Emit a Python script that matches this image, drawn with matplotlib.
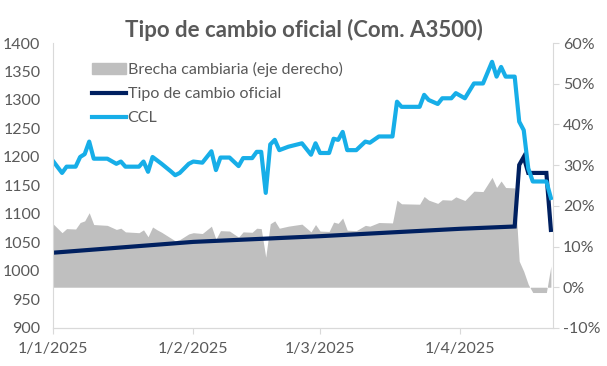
import numpy as np
import pandas as pd
import matplotlib
matplotlib.use("Agg")
import matplotlib.pyplot as plt
from matplotlib.patches import Patch
from matplotlib.lines import Line2D

# CCL and brecha (vertices)
ccl_dates = ["2025-01-01", "2025-01-03", "2025-01-04", "2025-01-06", "2025-01-07", "2025-01-08",
             "2025-01-09", "2025-01-10", "2025-01-13", "2025-01-15", "2025-01-16", "2025-01-17",
             "2025-01-20", "2025-01-21", "2025-01-22", "2025-01-23", "2025-01-24", "2025-01-25",
             "2025-01-27", "2025-01-28", "2025-01-29", "2025-01-31", "2025-02-01", "2025-02-03",
             "2025-02-05", "2025-02-06", "2025-02-07", "2025-02-09", "2025-02-11", "2025-02-12",
             "2025-02-14", "2025-02-15", "2025-02-16", "2025-02-17", "2025-02-18", "2025-02-19",
             "2025-02-20", "2025-02-22", "2025-02-25", "2025-02-27", "2025-02-28", "2025-03-01",
             "2025-03-03", "2025-03-04", "2025-03-05", "2025-03-06", "2025-03-07", "2025-03-09",
             "2025-03-11", "2025-03-12", "2025-03-14", "2025-03-17", "2025-03-18", "2025-03-19",
             "2025-03-23", "2025-03-24", "2025-03-25", "2025-03-27", "2025-03-28", "2025-03-30",
             "2025-03-31", "2025-04-02", "2025-04-04", "2025-04-06", "2025-04-08", "2025-04-09",
             "2025-04-10", "2025-04-11", "2025-04-13", "2025-04-14", "2025-04-15", "2025-04-16",
             "2025-04-17", "2025-04-20", "2025-04-21"]
ccl = [1193, 1172, 1183, 1183, 1200, 1205,
       1227, 1197, 1197, 1188, 1192, 1183,
       1183, 1192, 1174, 1200, 1194, 1188,
       1175, 1168, 1172, 1188, 1192, 1190,
       1210, 1177, 1199, 1199, 1184, 1198,
       1198, 1209, 1209, 1137, 1222, 1230,
       1212, 1218, 1224, 1204, 1224, 1207,
       1207, 1232, 1230, 1244, 1212, 1212,
       1227, 1225, 1236, 1236, 1297, 1288,
       1288, 1309, 1300, 1293, 1303, 1303,
       1312, 1303, 1329, 1329, 1367, 1341,
       1358, 1341, 1341, 1262, 1247, 1180,
       1157, 1157, 1128]
brecha = [15.6, 13.4, 14.4, 14.3, 15.9, 16.3,
          18.3, 15.4, 15.2, 14.2, 14.5, 13.6,
          13.4, 14.1, 12.4, 14.8, 14.1, 13.5,
          12.1, 11.4, 11.7, 13.1, 13.4, 13.2,
          15.0, 11.8, 13.9, 13.8, 12.3, 13.6,
          13.5, 14.5, 14.4, 7.4, 15.6, 16.3,
          14.5, 15.0, 15.5, 13.6, 15.4, 13.8,
          13.7, 16.0, 15.7, 17.0, 14.0, 13.9,
          15.2, 15.0, 15.9, 15.8, 21.4, 20.5,
          20.4, 22.3, 21.4, 20.6, 21.5, 21.4,
          22.2, 21.3, 23.6, 23.5, 27.0, 24.5,
          26.1, 24.5, 24.4, 6.4, 3.9, 0.7,
          -1.3, -1.3, 5.2]

oficial_dates = ["2025-01-01", "2025-02-01", "2025-03-01", "2025-04-01", "2025-04-13",
                 "2025-04-14", "2025-04-15", "2025-04-16", "2025-04-20", "2025-04-21"]
oficial = [1032, 1051, 1061, 1074, 1078, 1186, 1200, 1172, 1172, 1072]

month_ticks = ["2025-01-01", "2025-02-01", "2025-03-01", "2025-04-01"]
month_labels = ["1/1/2025", "1/2/2025", "1/3/2025", "1/4/2025"]

ccl_x = pd.to_datetime(ccl_dates)
of_x = pd.to_datetime(oficial_dates)

txt = "#595959"
plt.rcParams["font.family"] = ["Lato", "DejaVu Sans"]

fig = plt.figure(figsize=(6.07, 3.66), dpi=100)
ax = fig.add_axes([0.0873, 0.104, 0.824, 0.7785])
ax2 = ax.twinx()

ax2.fill_between(ccl_x, 0, np.array(brecha) / 100, color="#BFBFBF", linewidth=0)
ax.plot(of_x, oficial, color="#002060", lw=3, solid_joinstyle="miter")
ax.plot(ccl_x, ccl, color="#17AEE8", lw=3)

ax.set_zorder(ax2.get_zorder() + 1)
ax.patch.set_visible(False)

ax.set_ylim(900, 1400)
ax.set_yticks(np.arange(900, 1401, 50))
ax2.set_ylim(-0.10, 0.60)
ax2.set_yticks(np.arange(-0.10, 0.601, 0.10))
ax2.set_yticklabels([f"{v}%" for v in range(-10, 61, 10)])

ax.set_xlim(pd.Timestamp("2025-01-01"), pd.Timestamp("2025-04-21 12:00"))
ax.set_xticks(pd.to_datetime(month_ticks))
ax.set_xticklabels(month_labels)

for a in (ax, ax2):
    for s in a.spines.values():
        s.set_color("#D9D9D9")
    a.spines["top"].set_visible(False)
    a.tick_params(colors=txt, labelsize=11.5, length=0)
ax.tick_params(axis="x", length=4, color="#D9D9D9", pad=6)
ax2.tick_params(axis="y", length=4, color="#D9D9D9", pad=3)
ax2.spines["left"].set_visible(False)
ax.spines["right"].set_visible(False)
ax.tick_params(axis="y", pad=9)

handles = [Patch(color="#BFBFBF"),
           Line2D([], [], color="#002060", lw=3),
           Line2D([], [], color="#17AEE8", lw=3)]
labels = ["Brecha cambiaria (eje derecho)", "Tipo de cambio oficial", "CCL"]
ax.legend(handles, labels, loc="upper left", bbox_to_anchor=(0.065, 0.955), frameon=False,
          fontsize=11.5, labelcolor=txt, handlelength=2.15, handletextpad=0.08,
          labelspacing=0.62, borderaxespad=0)

fig.text(0.5, 0.918, "Tipo de cambio oficial (Com. A3500)", ha="center", va="center",
         fontsize=16, fontweight="bold", color=txt)

fig.savefig("out.png", dpi=100)
